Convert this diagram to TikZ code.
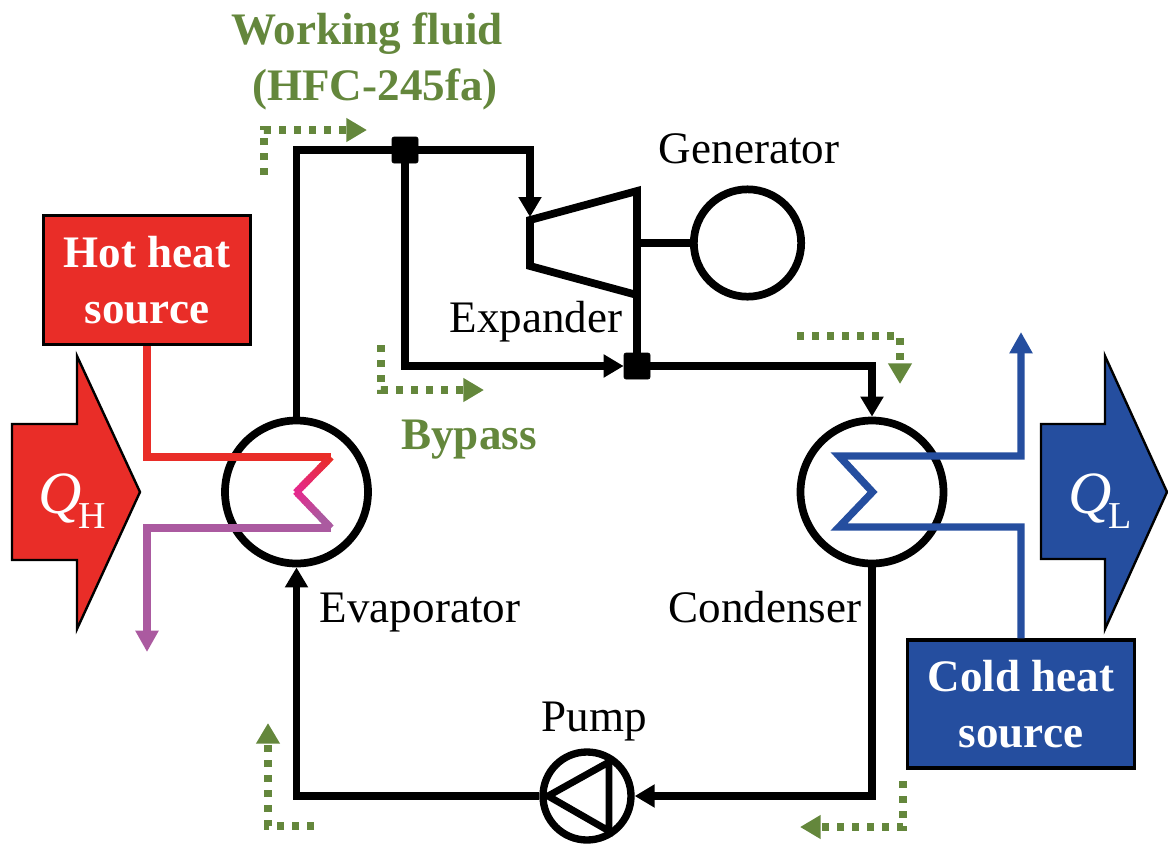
\documentclass[tikz,border=0pt]{standalone}
\usepackage{fontspec}
\setmainfont{Liberation Serif}
\usetikzlibrary{arrows.meta,calc}
\definecolor{hotred}{HTML}{E92D28}
\definecolor{pinkmid}{HTML}{E5288C}
\definecolor{hotpurple}{HTML}{AB5AA0}
\definecolor{coldblue}{HTML}{254E9F}
\definecolor{flowgreen}{HTML}{64873C}
\tikzset{
  x=0.75pt,y=-0.75pt,
  pipe/.style={line width=5.8pt,black,line join=miter},
  hx/.style={circle,draw=black,line width=5.8pt,minimum size=107.25pt,inner sep=0pt},
  tipblack/.style={-{Triangle[length=15pt,width=16.5pt]}},
  loopline/.style={line width=5.6pt},
  flow/.style={line width=5.5pt,flowgreen,dash pattern=on 5.5pt off 5.75pt,-{Triangle[length=15.5pt,width=17pt]}},
  junction/.style={fill=black,draw=black,line width=0.5pt,rounded corners=1.5pt,minimum size=19.5pt,inner sep=0pt},
  sourcebox/.style={draw=black,line width=2.6pt,text=white,align=center,inner sep=0pt,
     font=\fontsize{33.8}{42}\selectfont\bfseries},
  lbl/.style={anchor=base,inner sep=0pt,text=black,font=\fontsize{33.8}{42}\selectfont},
  greenlbl/.style={anchor=base,inner sep=0pt,text=flowgreen,font=\fontsize{33.8}{42}\selectfont\bfseries},
  qarrow/.style={draw=black,line width=1.8pt,line join=miter},
  qlbl/.style={anchor=base west,inner sep=0pt,text=white},
  tipcol/.style={-{Triangle[length=16pt,width=16.5pt]}},
  hotline/.style={line width=5.5pt,line join=miter},
}
\newcommand{\Qlabel}[1]{\fontsize{45}{45}\selectfont\textit{Q}\hspace{-0.05em}\raisebox{-11.25pt}{\fontsize{28.5}{28.5}\selectfont #1}}
\begin{document}
\begin{tikzpicture}
\useasboundingbox (0,0) rectangle (1168,844);
% heat arrows
\fill[hotred,qarrow] (12,424) -- (77,424) -- (77,356) -- (140,492) -- (77,629) -- (77,560) -- (12,560) -- cycle;
\fill[coldblue,qarrow] (1041,424) -- (1105,424) -- (1105,356) -- (1167,492) -- (1105,629) -- (1105,559) -- (1041,559) -- cycle;
\node[qlbl] (qh) at (38,513) {\Qlabel{H}};
\node[qlbl] (ql) at (1068,513) {\Qlabel{L}};
% main components
\node[hx] (evap) at (296.5,492) {};
\node[hx] (cond) at (872,492) {};
\node[circle,draw=black,line width=5.8pt,minimum size=80.5pt,inner sep=0pt] (gen) at (747.5,243) {};
\node[circle,draw=black,line width=5.5pt,minimum size=66pt,inner sep=0pt] (pump) at (587,796) {};
\node[junction] (j1) at (405,150) {};
\node[junction] (j2) at (637,366) {};
\coordinate (cornerTL) at (296.5,150);
\coordinate (turbIn) at (530,217);
\coordinate (ta) at (530,220);
\coordinate (tb) at (637,191);
\coordinate (tc) at (637,295);
\coordinate (td) at (530,266);
\coordinate (shaft) at (637,243);
% expander
\draw[pipe] (ta) -- (tb) -- (tc) -- (td) -- cycle;
% connectors
\draw[pipe,loopline] (evap.north) -- (cornerTL) -- (j1);
\draw[pipe,loopline,tipblack] (j1) -| (turbIn);
\draw[pipe,loopline,tipblack] (j1) |- (j2.west);
\draw[pipe,loopline] (tc) -- (j2);
\draw[pipe,loopline] (shaft) -- (gen.west);
\draw[pipe,loopline,tipblack] (j2) -| (cond.north);
\draw[pipe,loopline,tipblack] (cond.south) |- (pump.east);
\draw[pipe,loopline,tipblack] (pump.west) -| (evap.south);
% pump triangle
\coordinate (pa) at (548,796);
\coordinate (pb) at (609,762);
\coordinate (pc) at (609,831);
\draw[pipe,line width=5.2pt] (pa) -- (pb) -- (pc) -- cycle;
% sources
\node[sourcebox,fill=hotred,minimum width=155.5pt,minimum height=97pt] (hot) at (147,280) {Hot heat\\source};
\node[sourcebox,fill=coldblue,minimum width=170.5pt,minimum height=96pt] (cold) at (1021,704) {Cold heat\\source};
% hot side
\coordinate (hr1) at (147,457);
\coordinate (zt) at (331,457);
\coordinate (za) at (296.5,492);
\coordinate (zb) at (331,528);
\coordinate (hp1) at (147,528);
\coordinate (hp2) at (147,652);
\draw[hotline,hotred] (hot.south) -- (hr1) -- (zt);
\foreach \i in {0,...,15}{
  \pgfmathsetmacro{\aa}{\i/16}\pgfmathsetmacro{\bb}{(\i+1.3)/16}
  \pgfmathsetmacro{\cc}{100*\i/15}
  \draw[line width=5.5pt,pinkmid!\cc!hotred] ($(zt)!\aa!(za)$) -- ($(zt)!\bb!(za)$);
}
\foreach \i in {0,...,15}{
  \pgfmathsetmacro{\aa}{(\i-0.3)/16}\pgfmathsetmacro{\bb}{(\i+1)/16}
  \pgfmathsetmacro{\cc}{min(100,100*\i/11)}
  \draw[line width=5.5pt,hotpurple!\cc!pinkmid] ($(za)!\aa!(zb)$) -- ($(za)!\bb!(zb)$);
}
\draw[hotline,hotpurple,tipcol] (zb) -- (hp1) -- (hp2);
% cold side
\coordinate (cb1) at (1021,527);
\coordinate (cz1) at (839,527);
\coordinate (cz2) at (872.5,492);
\coordinate (cz3) at (839,456);
\coordinate (ct1) at (1021,456);
\coordinate (ct2) at (1021,332);
\draw[hotline,coldblue,tipcol] (cold.north) -- (cb1) -- (cz1) -- (cz2) -- (cz3) -- (ct1) -- (ct2);
% flow indicators
\coordinate (f1a) at (264,175); \coordinate (f1b) at (264,130); \coordinate (f1c) at (367,130);
\draw[flow] (f1a) -- (f1b) -- (f1c);
\coordinate (f2a) at (381,345); \coordinate (f2b) at (381,390); \coordinate (f2c) at (484,390);
\draw[flow] (f2a) -- (f2b) -- (f2c);
\coordinate (f3a) at (797,336); \coordinate (f3b) at (900,336); \coordinate (f3c) at (900,384);
\draw[flow] (f3a) -- (f3b) -- (f3c);
\coordinate (f4a) at (314,826); \coordinate (f4b) at (268,826); \coordinate (f4c) at (268,723);
\draw[flow] (f4a) -- (f4b) -- (f4c);
\coordinate (f5a) at (903,781); \coordinate (f5b) at (903,827); \coordinate (f5c) at (800,827);
\draw[flow] (f5a) -- (f5b) -- (f5c);
% labels
\node[greenlbl] (wf1) at (367,44) {Working fluid};
\node[greenlbl] (wf2) at (375,100) {(HFC-245fa)};
\node[greenlbl] (byp) at (469,449) {Bypass};
\node[lbl] (lgen) at (749,163) {Generator};
\node[lbl] (lexp) at (536,332) {Expander};
\node[lbl] (leva) at (420,622) {Evaporator};
\node[lbl] (lcon) at (765,622) {Condenser};
\node[lbl] (lpum) at (594,731) {Pump};
\end{tikzpicture}
\end{document}
